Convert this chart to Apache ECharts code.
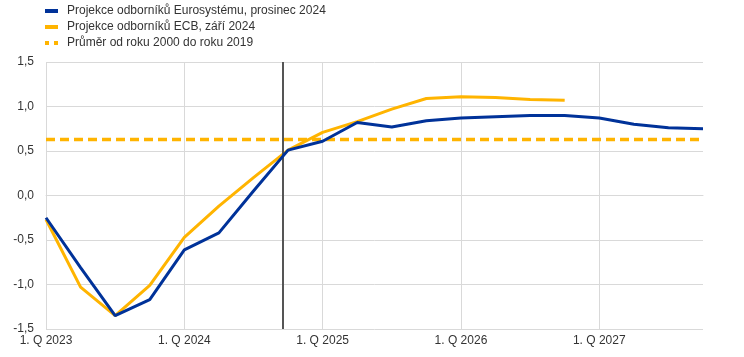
<!DOCTYPE html>
<html>
<head>
<meta charset="utf-8">
<script src="https://cdn.jsdelivr.net/npm/echarts@6/dist/echarts.min.js"></script>
<style>
html,body{margin:0;padding:0;background:#fff;}
#chart{width:744px;height:357px;}
</style>
</head>
<body>
<div id="chart"></div>
<script>
const quarters = [
  '1. Q 2023','2. Q 2023','3. Q 2023','4. Q 2023',
  '1. Q 2024','2. Q 2024','3. Q 2024','4. Q 2024',
  '1. Q 2025','2. Q 2025','3. Q 2025','4. Q 2025',
  '1. Q 2026','2. Q 2026','3. Q 2026','4. Q 2026',
  '1. Q 2027','2. Q 2027','3. Q 2027','4. Q 2027'
];
const seriesNames = [
  'Projekce odborníků Eurosystému, prosinec 2024',
  'Projekce odborníků ECB, září 2024',
  'Průměr od roku 2000 do roku 2019'
];
const eurosystemDec2024 = [-0.25, -0.81, -1.35, -1.17, -0.61, -0.42, 0.05, 0.51, 0.61, 0.82, 0.77, 0.84, 0.87, 0.885, 0.90, 0.90, 0.87, 0.80, 0.76, 0.75];
const ecbSep2024 = [-0.27, -1.03, -1.35, -1.01, -0.47, -0.12, 0.20, 0.51, 0.71, 0.83, 0.97, 1.09, 1.11, 1.10, 1.08, 1.07];
const average2000to2019 = 0.63;
const cutoffPosition = 6.85;
const yTicks = [-1.5, -1.0, -0.5, 0.0, 0.5, 1.0, 1.5];

const toPairs = arr => arr.map((v, i) => [i, v]);
const lastIndex = quarters.length - 1;
const gridColor = '#d9d9d9';

const chart = echarts.init(document.getElementById('chart'), null, {renderer: 'canvas'});
chart.setOption({
  animation: false,
  backgroundColor: '#fff',
  textStyle: {fontFamily: 'Liberation Sans, Arial, sans-serif'},
  legend: {
    orient: 'vertical',
    left: 45,
    top: 5,
    padding: 0,
    itemGap: 4,
    itemWidth: 13,
    itemHeight: 4,
    textStyle: {fontSize: 12, color: '#333', padding: [0, 0, 0, 4], fontFamily: 'Liberation Sans, Arial, sans-serif'},
    data: [
      {name: seriesNames[0], icon: 'rect'},
      {name: seriesNames[1], icon: 'rect'},
      {name: seriesNames[2], icon: 'path://M0,0h4v4h-4z M9,0h4v4h-4z'}
    ]
  },
  grid: {left: 46, right: 41, top: 62, bottom: 28, containLabel: false},
  xAxis: {
    type: 'value',
    min: 0,
    max: lastIndex,
    interval: 4,
    axisLine: {show: true, lineStyle: {color: gridColor, width: 1}},
    axisTick: {show: false},
    axisLabel: {
      color: '#333', fontSize: 12, margin: 6,
      showMaxLabel: false,
      formatter: v => (v % 4 === 0 ? quarters[v] : '')
    },
    splitLine: {show: true, lineStyle: {color: [gridColor, gridColor, gridColor, gridColor, gridColor, 'rgba(0,0,0,0)'], width: 1}}
  },
  yAxis: {
    type: 'value',
    min: yTicks[0],
    max: yTicks[yTicks.length - 1],
    interval: 0.5,
    axisLine: {show: false},
    axisTick: {show: false},
    axisLabel: {
      color: '#333', fontSize: 12, margin: 12,
      formatter: v => v.toFixed(1).replace('.', ',')
    },
    splitLine: {show: true, lineStyle: {color: gridColor, width: 1}}
  },
  series: [
    {
      name: seriesNames[0],
      type: 'line',
      data: toPairs(eurosystemDec2024),
      symbol: 'none',
      z: 5,
      color: '#003299',
      lineStyle: {color: '#003299', width: 3}
    },
    {
      name: seriesNames[1],
      type: 'line',
      data: toPairs(ecbSep2024),
      symbol: 'none',
      z: 4,
      color: '#ffb400',
      lineStyle: {color: '#ffb400', width: 3},
      markLine: {
        silent: true,
        symbol: 'none',
        label: {show: false},
        lineStyle: {color: '#555', width: 2, type: 'solid'},
        data: [{xAxis: cutoffPosition}]
      }
    },
    {
      name: seriesNames[2],
      type: 'line',
      data: [[0, average2000to2019], [lastIndex, average2000to2019]],
      symbol: 'none',
      z: 3,
      color: '#ffb400',
      lineStyle: {color: '#ffb400', width: 3.5, type: [9, 5]}
    }
  ]
});
</script>
</body>
</html>
